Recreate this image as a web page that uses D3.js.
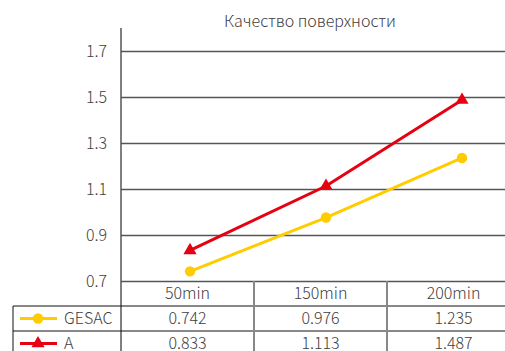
<!DOCTYPE html>
<html lang="ru">
<head>
<meta charset="utf-8">
<title>Качество поверхности</title>
<script src="https://d3js.org/d3.v7.min.js"></script>
<style>
  body { margin: 0; background: #fff; }
  svg text { font-family: "Noto Sans CJK SC", "Noto Sans", sans-serif; font-weight: 300; fill: #404040; }
</style>
</head>
<body>
<div id="chart"></div>
<script>
// data
const categories = ["50min", "150min", "200min"];
const gesacValues = [0.742, 0.976, 1.235];
const aValues = [0.833, 1.113, 1.487];
const seriesNames = ["GESAC", "A"];
const yTicks = [0.7, 0.9, 1.1, 1.3, 1.5, 1.7];

const W = 505, H = 351;
const plot = {left: 121, right: 520, top: 28, bottom: 281};
const tableLeft = 13, rowH = 25;

const svg = d3.select("#chart").append("svg")
    .attr("width", W)
    .attr("height", H);

// scales
const y = d3.scaleLinear().domain([0.7, 1.8]).range([plot.bottom, plot.top]);
const xBand = d3.scaleBand().domain(categories).range([plot.left, plot.right]);
const xPt = d3.scalePoint().domain(categories).range([190, 462]);

// title
svg.append("text")
    .attr("x", 310).attr("y", 27)
    .attr("text-anchor", "middle")
    .style("font-size", "16px")
    .text("Качество поверхности");

// y axis with gridlines
const yAxis = svg.append("g")
    .attr("transform", "translate(" + plot.left + ",0)")
    .call(d3.axisLeft(y).tickValues(yTicks).tickFormat(d3.format(".1f"))
        .tickSize(-(W - plot.left)).tickPadding(14));
yAxis.select(".domain").remove();
yAxis.selectAll(".tick line").attr("stroke", "#555").attr("stroke-width", 1.5);
yAxis.selectAll(".tick text").style("font-size", "16px").attr("fill", "#404040");

// vertical axis line running into the table
svg.append("line")
    .attr("x1", plot.left).attr("x2", plot.left)
    .attr("y1", plot.top).attr("y2", H)
    .attr("stroke", "#555").attr("stroke-width", 1.5);

// data table
const rows = [gesacValues, aValues];
const tableTop = plot.bottom + rowH;

// horizontal rules
[tableTop, tableTop + rowH].forEach(function(yy) {
  svg.append("line")
      .attr("x1", tableLeft).attr("x2", W)
      .attr("y1", yy).attr("y2", yy)
      .attr("stroke", "#111").attr("stroke-width", 1);
});
// vertical rules
svg.append("line")
    .attr("x1", tableLeft).attr("x2", tableLeft)
    .attr("y1", tableTop).attr("y2", H)
    .attr("stroke", "#111").attr("stroke-width", 1);
categories.slice(1).forEach(function(c) {
  svg.append("line")
      .attr("x1", xBand(c)).attr("x2", xBand(c))
      .attr("y1", plot.bottom).attr("y2", H)
      .attr("stroke", "#888").attr("stroke-width", 2);
});

// header labels
svg.append("g").selectAll("text")
  .data(categories)
  .join("text")
    .attr("x", function(d) { return xBand(d) + xBand.bandwidth() / 2; })
    .attr("y", plot.bottom + rowH / 2)
    .attr("dy", "0.35em")
    .attr("text-anchor", "middle")
    .style("font-size", "16px")
    .text(function(d) { return d; });

// values
rows.forEach(function(vals, r) {
  svg.append("g").selectAll("text")
    .data(vals)
    .join("text")
      .attr("x", function(d, i) { return xBand(categories[i]) + xBand.bandwidth() / 2; })
      .attr("y", tableTop + r * rowH + rowH / 2)
      .attr("dy", "0.35em")
      .attr("text-anchor", "middle")
      .style("font-size", "16px")
      .text(function(d) { return d3.format(".3f")(d); });
});

// series styles
const colors = ["#FFCC00", "#E60012"];
const triangle = d3.symbol().type(d3.symbolTriangle).size(75);
const circle = d3.symbol().type(d3.symbolCircle).size(85);

const line = d3.line()
    .x(function(d, i) { return xPt(categories[i]); })
    .y(function(d) { return y(d); });

rows.forEach(function(vals, r) {
  svg.append("path")
      .datum(vals)
      .attr("fill", "none")
      .attr("stroke", colors[r])
      .attr("stroke-width", 3)
      .attr("d", line);
  svg.append("g").selectAll("path.m")
    .data(vals)
    .join("path")
      .attr("class", "m")
      .attr("fill", colors[r])
      .attr("d", r === 0 ? circle : triangle)
      .attr("transform", function(d, i) { return "translate(" + xPt(categories[i]) + "," + y(d) + ")"; });
});

// legend keys inside the table
seriesNames.forEach(function(name, r) {
  const cy = tableTop + r * rowH + rowH / 2;
  svg.append("line")
      .attr("x1", 20).attr("x2", 57)
      .attr("y1", cy).attr("y2", cy)
      .attr("stroke", colors[r]).attr("stroke-width", 3);
  svg.append("path")
      .attr("transform", "translate(38," + cy + ")")
      .attr("fill", colors[r])
      .attr("d", r === 0 ? circle() : triangle());
  svg.append("text")
      .attr("x", 64).attr("y", cy)
      .attr("dy", "0.35em")
      .style("font-size", "16px")
      .text(name);
});
</script>
</body>
</html>
